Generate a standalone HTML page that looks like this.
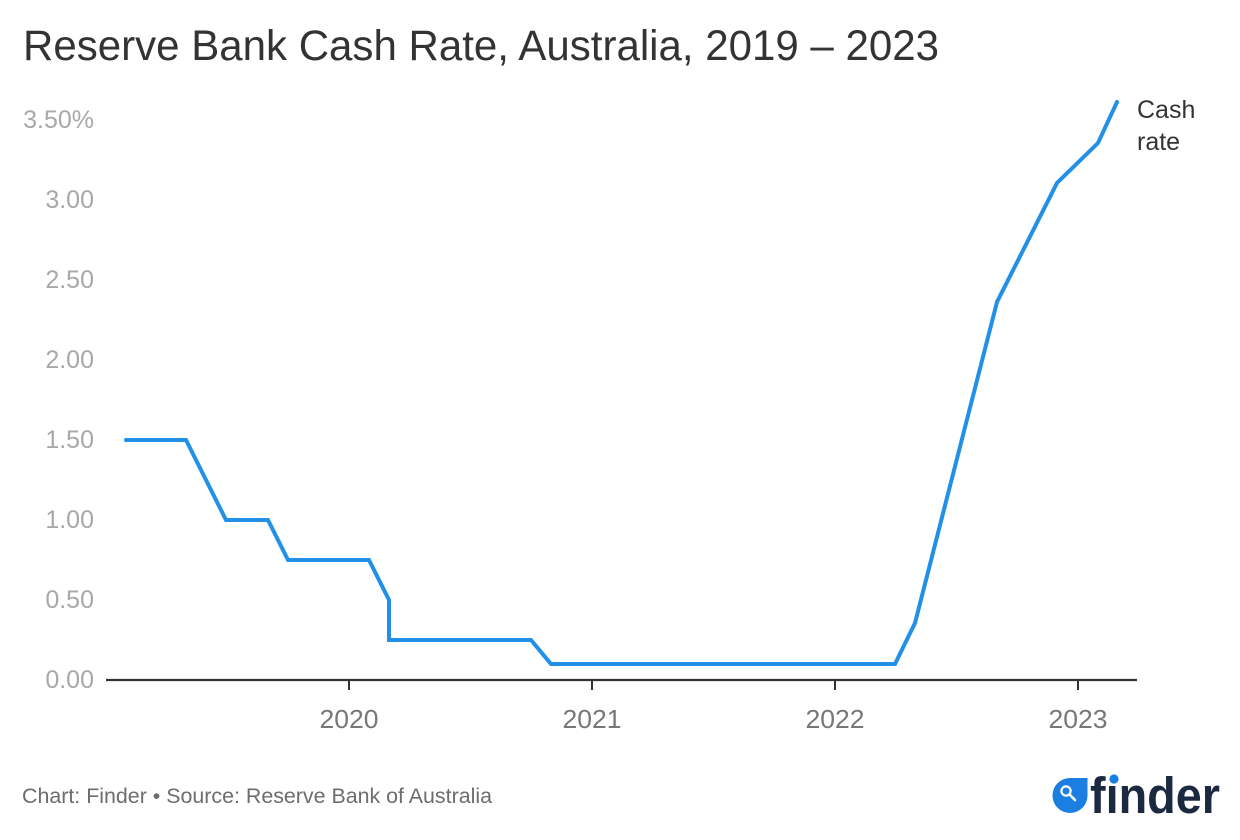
<!DOCTYPE html>
<html>
<head>
<meta charset="utf-8">
<style>
  html, body { margin: 0; padding: 0; background: #ffffff; }
  svg { display: block; }
  text { font-family: "Liberation Sans", Arial, sans-serif; }
</style>
</head>
<body>
<svg width="1240" height="840" viewBox="0 0 1240 840" xmlns="http://www.w3.org/2000/svg">
  <rect width="1240" height="840" fill="#ffffff"/>

  <!-- Title -->
  <text x="23" y="60" font-size="43" fill="#333333" textLength="916" lengthAdjust="spacingAndGlyphs">Reserve Bank Cash Rate, Australia, 2019 – 2023</text>

  <!-- Y axis labels -->
  <g font-size="25" fill="#a8a8a8" text-anchor="end">
    <text x="94" y="128">3.50%</text>
    <text x="94" y="208">3.00</text>
    <text x="94" y="288">2.50</text>
    <text x="94" y="368">2.00</text>
    <text x="94" y="448">1.50</text>
    <text x="94" y="528">1.00</text>
    <text x="94" y="608">0.50</text>
    <text x="94" y="688">0.00</text>
  </g>

  <!-- X axis -->
  <line x1="106" y1="680" x2="1137" y2="680" stroke="#333333" stroke-width="2.2"/>
  <g stroke="#333333" stroke-width="2">
    <line x1="349" y1="680" x2="349" y2="690"/>
    <line x1="592" y1="680" x2="592" y2="690"/>
    <line x1="835" y1="680" x2="835" y2="690"/>
    <line x1="1078" y1="680" x2="1078" y2="690"/>
  </g>
  <g font-size="26" fill="#777777" text-anchor="middle">
    <text x="349" y="728" textLength="59" lengthAdjust="spacingAndGlyphs">2020</text>
    <text x="592" y="728" textLength="59" lengthAdjust="spacingAndGlyphs">2021</text>
    <text x="835" y="728" textLength="59" lengthAdjust="spacingAndGlyphs">2022</text>
    <text x="1078" y="728" textLength="59" lengthAdjust="spacingAndGlyphs">2023</text>
  </g>

  <!-- Series -->
  <polyline fill="none" stroke="#2290e6" stroke-width="4" stroke-linejoin="miter" stroke-linecap="round"
    points="126,440 186,440 226,520 268,520 288,560 369,560 389,600 389,640 531,640 551,664 895,664 915,623 997,302 1057,183 1098,143 1117,102"/>

  <!-- Series label -->
  <g font-size="25" fill="#333333">
    <text x="1137" y="118">Cash</text>
    <text x="1137" y="150">rate</text>
  </g>

  <!-- Footer -->
  <text x="22" y="803" font-size="21" fill="#6d6d6d" textLength="470" lengthAdjust="spacingAndGlyphs">Chart: Finder • Source: Reserve Bank of Australia</text>

  <!-- Finder logo -->
  <path d="M1070,778 H1087.5 V795.5 A17.5,17.5 0 1 1 1070,778 Z" fill="#1a7fe0"/>
  <circle cx="1066" cy="791" r="4.6" fill="none" stroke="#ffffff" stroke-width="2.2"/>
  <line x1="1069.5" y1="794.5" x2="1075" y2="800" stroke="#ffffff" stroke-width="2.6" stroke-linecap="round"/>
  <text x="1090" y="813" font-size="51" font-weight="bold" fill="#1b2a40" textLength="130" lengthAdjust="spacingAndGlyphs">fınder</text>
  <circle cx="1114" cy="779" r="4.6" fill="#1a7fe0"/>
</svg>
</body>
</html>
